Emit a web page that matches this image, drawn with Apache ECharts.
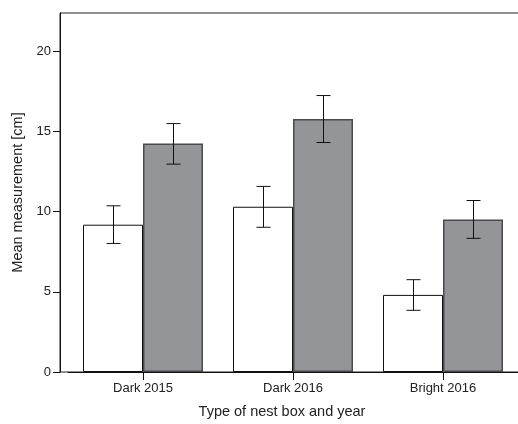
<!DOCTYPE html>
<html>
<head>
<meta charset="utf-8">
<script src="https://cdn.jsdelivr.net/npm/echarts@6/dist/echarts.min.js"></script>
<style>
  html, body { margin: 0; padding: 0; background: #fff; }
  #chart { width: 518px; height: 424px; }
</style>
</head>
<body>
<div id="chart"></div>
<script>
// values
var categories = ['Dark 2015', 'Dark 2016', 'Bright 2016'];
var lightMean = [9.19, 10.31, 4.81];
var lightLow = [8.02, 9.03, 3.85];
var lightHigh = [10.37, 11.58, 5.76];
var darkMean = [14.26, 15.79, 9.52];
var darkLow = [12.97, 14.32, 8.34];
var darkHigh = [15.5, 17.25, 10.70];
var yTicks = [0, 5, 10, 15, 20];
var yMax = 22.4;

var font = 'Liberation Sans, Arial, sans-serif';

// error bars: x offset is a fraction of the category band
var errorBars = function(shift){
    return function(params, api){
        var i = api.value(0);
        var lo = api.coord([i, api.value(1)]);
        var hi = api.coord([i, api.value(2)]);
        var band = api.size([1, 0])[0];
        var x = Math.round(lo[0] + shift * band) + 0.5;
        var cap = 7;
        var style = {stroke: '#111', lineWidth: 1};
        return {
            type: 'group',
            children: [
                {type: 'line', shape: {x1: x, y1: hi[1], x2: x, y2: lo[1]}, style: style},
                {type: 'line', shape: {x1: x - cap, y1: hi[1], x2: x + cap, y2: hi[1]}, style: style},
                {type: 'line', shape: {x1: x - cap, y1: lo[1], x2: x + cap, y2: lo[1]}, style: style}
            ]
        };
    };
};

var pack = function(lo, hi){
    var out = [];
    for(var i = 0; i < lo.length; i++){
        out.push([i, lo[i], hi[i]]);
    }
    return out;
};

var option = {
    animation: false,
    grid: [
        {left: 68, right: 0, top: 13, bottom: 52, outerBoundsMode: 'none', containLabel: false},
        {left: 60, right: -2, top: 13, bottom: 52, outerBoundsMode: 'none', containLabel: false,
            show: true, borderColor: '#222', borderWidth: 1, backgroundColor: 'transparent'}
    ],
    xAxis: [
        {
            type: 'category',
            gridIndex: 0,
            data: categories,
            axisLine: {show: true, lineStyle: {color: '#111', width: 1}},
            axisTick: {show: true, alignWithLabel: true, length: 8, lineStyle: {color: '#111'}},
            axisLabel: {color: '#222', fontFamily: font, fontSize: 13, margin: 10},
            name: 'Type of nest box and year',
            nameLocation: 'middle',
            nameGap: 32,
            nameTextStyle: {color: '#222', fontFamily: font, fontSize: 14.5, padding: [0, 22, 0, 0]}
        },
        {type: 'value', gridIndex: 1, show: false, min: 0, max: 1}
    ],
    yAxis: [
        {
            type: 'value',
            gridIndex: 0,
            min: 0,
            max: yMax,
            offset: 8,
            axisLine: {show: true, lineStyle: {color: '#111', width: 1}},
            axisTick: {show: true, length: 7, customValues: yTicks, lineStyle: {color: '#111'}},
            axisLabel: {color: '#222', fontFamily: font, fontSize: 13, margin: 9, customValues: yTicks},
            splitLine: {show: false},
            name: 'Mean measurement [cm]',
            nameLocation: 'middle',
            nameGap: 29,
            nameTextStyle: {color: '#222', fontFamily: font, fontSize: 14.5}
        },
        {type: 'value', gridIndex: 1, show: false, min: 0, max: 1}
    ],
    series: [
        {
            type: 'bar',
            data: lightMean,
            barWidth: '40%',
            barGap: 0,
            itemStyle: {color: '#ffffff', borderColor: '#111', borderWidth: 1}
        },
        {
            type: 'bar',
            data: darkMean,
            barWidth: '40%',
            barGap: 0,
            itemStyle: {color: '#939598', borderColor: '#4a4a4a', borderWidth: 1.5}
        },
        {
            type: 'custom',
            renderItem: errorBars(-0.2),
            encode: {x: 0, y: [1, 2]},
            data: pack(lightLow, lightHigh),
            z: 5
        },
        {
            type: 'custom',
            renderItem: errorBars(0.2),
            encode: {x: 0, y: [1, 2]},
            data: pack(darkLow, darkHigh),
            z: 5
        }
    ]
};

echarts.init(document.getElementById('chart')).setOption(option);
</script>
</body>
</html>
